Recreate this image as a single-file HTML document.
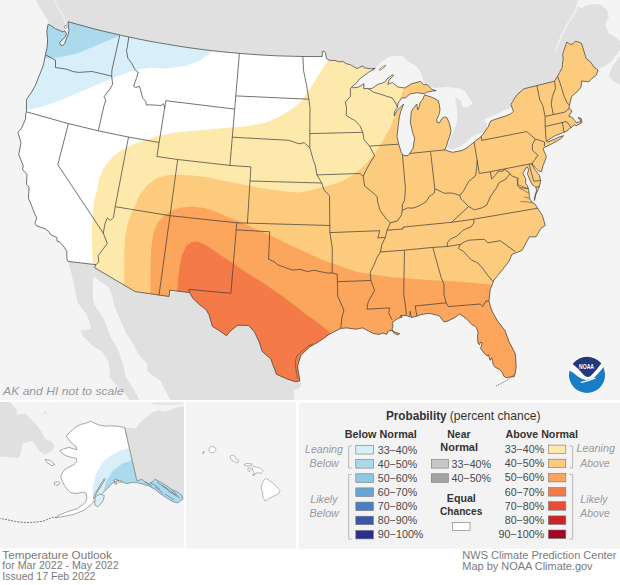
<!DOCTYPE html>
<html><head><meta charset="utf-8"><style>
html,body{margin:0;padding:0;background:#fff;}
#root{position:relative;width:620px;height:585px;overflow:hidden;background:#fff;}
</style></head><body><div id="root">
<svg width="620" height="585" viewBox="0 0 620 585" style="position:absolute;left:0;top:0">
<defs><clipPath id="us"><path d="M48.5,24.1 L55.6,28.7 L62.8,31.8 L64.9,30.8 L66.4,33.8 L65.4,36.9 L60.8,41.0 L59.7,42.6 L60.8,45.1 L62.8,45.6 L64.9,43.1 L65.9,40.0 L68.0,34.9 L69.0,30.8 L68.5,26.7 L68.1,21.7 L76.9,24.2 L85.8,26.6 L94.7,29.0 L103.6,31.2 L112.6,33.3 L121.5,35.4 L130.5,37.3 L139.5,39.2 L148.5,41.0 L157.6,42.6 L166.7,44.2 L175.7,45.7 L184.8,47.1 L193.9,48.4 L203.0,49.6 L212.2,50.7 L221.3,51.7 L230.5,52.6 L239.6,53.4 L248.8,54.1 L258.0,54.8 L267.2,55.3 L276.3,55.8 L285.5,56.1 L294.7,56.3 L303.9,56.5 L313.1,56.6 L322.3,56.5 L322.3,51.3 L324.1,51.2 L325.3,52.3 L326.5,58.6 L329.4,60.3 L335.0,60.5 L338.8,61.8 L343.0,61.4 L345.9,63.6 L350.7,64.8 L354.0,66.8 L357.0,68.6 L359.7,67.2 L363.0,65.9 L364.5,67.9 L370.2,68.7 L375.2,68.4 L368.6,72.3 L359.4,79.1 L356.2,83.4 L352.0,86.7 L353.0,87.8 L357.9,87.3 L361.6,85.3 L364.0,83.7 L363.7,88.7 L368.1,88.4 L368.4,88.8 L372.4,88.2 L378.0,84.3 L381.8,83.3 L385.5,81.6 L387.2,78.7 L392.6,74.7 L393.7,75.3 L389.2,79.9 L387.7,84.3 L392.3,82.5 L397.6,86.9 L405.0,88.0 L411.1,83.9 L420.7,81.4 L423.7,84.9 L427.0,84.5 L432.1,89.5 L436.2,90.6 L432.3,91.1 L426.5,92.3 L424.4,93.7 L416.7,92.7 L409.5,94.2 L405.5,97.8 L401.9,97.8 L398.1,103.1 L397.5,107.3 L394.4,111.8 L394.2,115.8 L396.8,110.9 L403.6,104.0 L400.8,111.3 L399.3,117.1 L398.1,126.4 L397.0,136.5 L398.7,144.2 L401.3,152.6 L403.8,155.6 L408.0,155.7 L409.7,153.5 L413.0,148.4 L414.6,138.3 L412.6,132.4 L410.4,122.4 L411.3,111.7 L413.0,108.7 L416.8,104.0 L417.7,110.0 L419.3,106.6 L420.1,102.2 L422.5,99.8 L424.6,94.9 L428.0,96.0 L433.2,97.8 L438.0,100.5 L439.4,104.6 L440.0,110.1 L438.7,115.6 L436.6,119.7 L437.3,122.4 L439.4,123.1 L441.4,119.0 L444.2,116.9 L446.9,117.6 L449.6,123.8 L451.0,130.6 L449.8,136.1 L447.6,142.0 L446.6,145.8 L444.6,149.9 L447.0,150.6 L452.4,152.3 L462.0,150.5 L467.4,147.5 L474.1,142.0 L481.2,136.6 L488.4,126.6 L489.3,123.8 L490.7,121.0 L496.1,119.0 L505.0,116.3 L510.8,113.9 L513.4,111.3 L510.9,104.6 L514.7,98.1 L517.2,94.6 L523.8,88.8 L536.9,85.6 L554.6,81.1 L557.6,76.1 L559.5,72.7 L562.2,67.6 L562.4,64.6 L563.2,58.5 L562.5,54.4 L564.2,49.6 L566.8,42.1 L570.8,44.7 L573.3,43.3 L575.4,41.2 L579.9,42.6 L581.5,43.4 L586.2,58.5 L590.7,62.1 L594.1,67.3 L598.1,70.1 L596.3,75.1 L590.5,79.8 L589.0,81.8 L581.4,81.1 L581.1,87.0 L578.0,90.9 L571.7,96.3 L569.4,105.3 L569.0,108.5 L572.0,110.9 L568.7,116.2 L572.2,117.4 L574.6,120.4 L576.3,122.6 L580.9,121.6 L579.2,117.7 L578.0,117.9 L581.1,118.6 L582.2,122.4 L576.1,125.9 L574.5,124.8 L571.3,127.3 L568.9,128.9 L567.3,130.9 L563.8,132.3 L559.2,134.1 L555.2,135.7 L551.1,138.1 L546.7,141.2 L547.5,142.2 L551.1,140.6 L556.0,138.5 L559.2,136.9 L563.6,135.7 L561.6,138.1 L557.6,140.6 L552.7,143.4 L547.9,145.8 L543.9,147.6 L543.1,149.0 L546.3,156.1 L545.5,159.6 L543.1,165.6 L541.3,171.6 L539.0,171.0 L537.1,169.5 L534.7,167.0 L532.3,164.4 L533.5,167.5 L535.5,170.5 L538.0,173.5 L539.5,175.5 L540.7,181.1 L539.5,185.9 L538.3,189.5 L535.9,194.3 L534.4,200.5 L535.0,196.0 L536.5,190.7 L535.9,187.1 L532.3,184.7 L529.9,180.0 L527.5,174.0 L528.7,169.2 L526.9,166.8 L524.0,171.6 L522.8,173.4 L525.7,178.7 L525.7,183.5 L527.5,185.9 L528.5,189.5 L529.3,194.3 L529.3,197.9 L532.3,202.7 L534.7,203.9 L537.7,208.2 L542.3,215.2 L545.3,225.4 L540.8,228.5 L536.1,236.8 L529.4,236.7 L522.0,250.4 L511.9,254.4 L509.3,260.7 L502.5,269.7 L497.6,275.6 L493.6,280.5 L493.2,282.0 L490.2,289.6 L489.0,301.2 L490.5,306.7 L492.5,312.1 L497.7,321.2 L505.0,330.5 L509.2,342.0 L515.3,353.8 L516.2,366.7 L515.1,373.5 L514.3,376.5 L505.6,377.6 L503.9,376.3 L502.0,372.1 L499.2,369.2 L495.4,367.4 L493.1,364.5 L492.6,360.8 L491.6,357.9 L490.2,360.3 L489.3,357.9 L488.4,354.6 L487.4,356.1 L484.1,353.2 L480.4,348.1 L481.3,346.6 L482.2,342.9 L480.4,342.4 L479.4,344.8 L478.0,342.9 L477.5,337.2 L478.0,332.5 L476.6,327.8 L473.8,325.3 L472.9,325.6 L466.4,318.7 L459.7,313.9 L455.2,317.3 L448.3,320.9 L444.0,321.9 L439.1,315.6 L429.1,313.3 L420.7,314.6 L417.0,316.1 L411.3,317.6 L410.1,311.3 L410.0,317.0 L406.3,315.5 L400.2,315.7 L402.3,316.9 L397.1,318.9 L394.5,320.8 L392.0,322.7 L393.2,326.0 L392.0,329.2 L393.2,332.4 L397.1,335.0 L399.7,333.7 L394.5,331.8 L392.0,330.5 L388.1,331.1 L386.8,334.4 L382.9,333.1 L379.0,334.4 L373.9,333.7 L368.7,331.1 L364.0,328.5 L362.3,327.9 L355.8,329.2 L346.8,327.9 L340.7,328.4 L329.2,334.3 L322.5,339.2 L314.5,344.2 L309.5,347.0 L300.8,355.3 L297.5,366.4 L298.7,373.4 L299.8,380.9 L295.4,381.7 L286.5,378.8 L276.5,374.3 L270.7,358.8 L262.2,351.4 L259.0,341.5 L254.5,332.1 L248.8,325.5 L237.8,325.2 L230.0,331.3 L226.6,335.7 L219.0,330.5 L212.4,326.4 L209.3,315.5 L206.2,309.6 L199.5,304.7 L192.9,298.3 L189.6,292.6 L169.8,290.2 L169.0,296.5 L135.1,291.6 L94.4,267.6 L96.0,264.7 L67.9,261.4 L66.9,258.8 L66.8,251.5 L64.2,247.2 L59.5,241.8 L57.2,241.3 L56.9,237.5 L50.5,234.5 L48.9,231.6 L44.9,228.7 L36.5,225.8 L35.0,223.5 L36.7,217.8 L34.6,213.6 L32.0,206.7 L28.4,198.0 L28.8,192.2 L29.1,187.1 L26.5,184.2 L27.0,174.3 L22.6,169.8 L23.2,165.5 L18.7,154.6 L21.0,142.7 L17.9,132.3 L21.6,128.1 L25.6,118.9 L25.5,115.2 L26.4,111.8 L26.5,99.4 L31.3,92.6 L35.5,85.0 L38.8,76.8 L43.3,65.3 L45.4,55.0 L46.8,48.8 L47.3,45.3 L47.6,39.6 L46.8,31.3 L48.0,24.7Z"/></clipPath>
<clipPath id="akc"><rect x="0" y="402" width="184" height="146.5"/></clipPath>
<clipPath id="akm"><path d="M66.2,435.8 L70.0,432.0 L75.4,427.4 L80.8,424.3 L85.4,423.5 L90.8,421.2 L94.6,423.1 L99.2,425.1 L105.4,426.2 L111.5,425.8 L117.7,426.2 L124.6,427.4 L136.9,480.9 L142.0,479.2 L143.7,480.9 L149.4,484.3 L152.7,481.5 L155.0,479.2 L158.4,480.9 L165.2,484.8 L171.9,489.4 L178.7,492.7 L181.5,495.0 L182.7,498.4 L182.7,499.5 L177.6,502.9 L173.1,501.8 L167.4,498.4 L160.6,493.9 L155.0,489.4 L149.9,486.5 L143.7,484.3 L136.9,482.6 L131.3,482.6 L126.8,483.7 L122.3,482.0 L120.0,481.5 L116.2,479.7 L111.5,484.3 L106.9,488.9 L102.3,493.5 L97.7,498.2 L94.6,501.0 L90.9,504.8 L83.2,510.6 L73.5,514.5 L63.8,516.4 L57.0,517.4 L58.0,515.5 L67.7,511.6 L77.4,508.7 L84.0,503.5 L85.4,502.0 L86.9,498.2 L86.2,493.5 L83.1,492.0 L76.9,493.5 L70.8,492.8 L67.7,489.7 L64.6,485.8 L62.3,481.2 L60.8,476.6 L62.3,472.8 L65.4,468.9 L70.0,466.6 L74.6,464.3 L76.9,461.2 L76.2,458.2 L71.5,457.4 L66.2,455.8 L62.3,453.5 L60.0,450.5 L63.8,448.9 L69.2,447.4 L73.1,448.9 L76.9,449.7 L76.2,446.6 L73.1,444.3 L68.5,439.7Z"/></clipPath></defs>
<rect width="620" height="585" fill="#fff"/>
<rect width="620" height="400" fill="#f4f4f4"/>
<path d="M36.0,0.0 L578.5,0.0 L577.0,6.0 L580.9,8.2 L588.1,5.1 L596.3,4.1 L600.0,4.6 L607.0,9.4 L608.9,17.0 L605.0,24.4 L608.9,33.8 L616.4,37.6 L620.0,41.4 L620.0,50.0 L618.3,52.6 L610.8,62.0 L601.4,67.7 L595.7,69.5 L590.0,65.0 L575.0,55.0 L568.0,60.0 L565.0,70.0 L560.0,80.0 L550.0,86.0 L535.0,92.0 L518.0,99.0 L510.0,108.0 L505.0,110.0 L496.1,114.2 L489.3,116.9 L483.8,119.7 L486.0,122.5 L487.5,126.5 L487.2,128.5 L483.8,131.5 L478.4,134.0 L471.5,137.0 L466.0,142.0 L460.6,146.5 L452.4,149.5 L447.6,148.4 L448.3,144.3 L451.0,137.5 L453.7,130.6 L456.5,123.8 L457.8,115.6 L456.5,107.4 L455.1,96.4 L458.0,99.0 L460.6,100.5 L462.6,106.7 L466.0,107.4 L472.9,104.0 L470.1,99.2 L464.7,91.0 L459.2,88.2 L445.5,86.8 L436.0,88.2 L426.8,85.5 L423.5,81.8 L422.4,76.1 L419.0,69.3 L414.5,64.8 L407.7,61.4 L403.2,56.3 L393.0,55.8 L388.5,57.0 L380.6,62.6 L375.0,68.2 L375.0,71.0 L355.0,71.0 L330.0,63.0 L302.0,61.0 L239.0,58.0 L128.0,41.0 L70.0,27.0 L63.0,31.0 L56.0,28.0 L49.5,23.6 L45.0,15.4 L40.0,8.0Z" fill="#e0e0e0"/>
<path d="M620.0,56.4 L612.6,65.8 L608.9,75.2 L612.6,80.8 L620.0,84.6Z" fill="#e0e0e0"/>
<path d="M555.3,51.3 L558.3,44.1 L561.4,35.9 L564.5,29.7 L567.6,23.6 L571.7,17.4 L575.8,10.3 L578.8,0.0" fill="none" stroke="#efefef" stroke-width="1.8"/>
<path d="M68.2,263.2 L70.9,271.4 L73.7,282.4 L75.7,293.3 L77.8,302.9 L83.3,309.7 L87.4,316.6 L90.1,323.4 L91.0,328.7 L80.3,330.6 L83.2,336.4 L92.9,346.1 L102.6,351.9 L108.4,361.6 L110.3,373.2 L109.4,377.1 L116.1,384.8 L123.9,392.6 L129.7,400.0 L139.4,400.0 L133.5,388.7 L125.8,377.1 L122.9,363.5 L118.1,350.0 L110.3,336.4 L106.5,326.1 L103.8,319.3 L99.7,312.5 L94.2,304.2 L92.8,296.0 L92.8,285.1 L93.5,277.6 L94.2,276.2 L95.6,277.6 L101.0,282.4 L105.1,284.4 L109.2,287.8 L112.0,296.0 L114.7,307.0 L117.5,313.8 L120.0,319.3 L125.8,332.6 L133.5,344.2 L139.4,355.8 L147.1,363.5 L147.1,371.3 L160.6,381.0 L166.4,392.6 L170.3,400.0 L294.2,400.0 L294.2,390.0 L297.4,389.0 L300.2,387.4 L301.3,383.0 L299.8,380.6 L296.0,376.0 L280.0,368.0 L230.0,291.0 L188.0,289.0 L170.0,293.0 L160.0,293.0 L100.0,264.0 L70.0,261.5Z" fill="#e0e0e0"/>
<path d="M54.5,0 L57.5,7 L61,12 L63.8,17 L65.5,22 L66.5,26" fill="none" stroke="#e9e9e9" stroke-width="2.2"/>
<path d="M64.9,30.8 L66.4,33.8 L65.4,36.9 L60.8,41 L59.7,42.6 L60.8,45.1 L62.8,45.6 L64.9,43.1 L65.9,40 L68,34.9 L69,30.8 L68.5,26.7 L66,27.5 L64,29.5Z" fill="#f4f4f4"/>
<path d="M378.8,69.6 L381.5,67.6 L385.6,65 L384.6,67.2 L380.2,70.4Z" fill="#fee9ad" stroke="#444" stroke-width="0.5"/>
<path d="M48.5,24.1 L55.6,28.7 L62.8,31.8 L64.9,30.8 L66.4,33.8 L65.4,36.9 L60.8,41.0 L59.7,42.6 L60.8,45.1 L62.8,45.6 L64.9,43.1 L65.9,40.0 L68.0,34.9 L69.0,30.8 L68.5,26.7 L68.1,21.7 L76.9,24.2 L85.8,26.6 L94.7,29.0 L103.6,31.2 L112.6,33.3 L121.5,35.4 L130.5,37.3 L139.5,39.2 L148.5,41.0 L157.6,42.6 L166.7,44.2 L175.7,45.7 L184.8,47.1 L193.9,48.4 L203.0,49.6 L212.2,50.7 L221.3,51.7 L230.5,52.6 L239.6,53.4 L248.8,54.1 L258.0,54.8 L267.2,55.3 L276.3,55.8 L285.5,56.1 L294.7,56.3 L303.9,56.5 L313.1,56.6 L322.3,56.5 L322.3,51.3 L324.1,51.2 L325.3,52.3 L326.5,58.6 L329.4,60.3 L335.0,60.5 L338.8,61.8 L343.0,61.4 L345.9,63.6 L350.7,64.8 L354.0,66.8 L357.0,68.6 L359.7,67.2 L363.0,65.9 L364.5,67.9 L370.2,68.7 L375.2,68.4 L368.6,72.3 L359.4,79.1 L356.2,83.4 L352.0,86.7 L353.0,87.8 L357.9,87.3 L361.6,85.3 L364.0,83.7 L363.7,88.7 L368.1,88.4 L368.4,88.8 L372.4,88.2 L378.0,84.3 L381.8,83.3 L385.5,81.6 L387.2,78.7 L392.6,74.7 L393.7,75.3 L389.2,79.9 L387.7,84.3 L392.3,82.5 L397.6,86.9 L405.0,88.0 L411.1,83.9 L420.7,81.4 L423.7,84.9 L427.0,84.5 L432.1,89.5 L436.2,90.6 L432.3,91.1 L426.5,92.3 L424.4,93.7 L416.7,92.7 L409.5,94.2 L405.5,97.8 L401.9,97.8 L398.1,103.1 L397.5,107.3 L394.4,111.8 L394.2,115.8 L396.8,110.9 L403.6,104.0 L400.8,111.3 L399.3,117.1 L398.1,126.4 L397.0,136.5 L398.7,144.2 L401.3,152.6 L403.8,155.6 L408.0,155.7 L409.7,153.5 L413.0,148.4 L414.6,138.3 L412.6,132.4 L410.4,122.4 L411.3,111.7 L413.0,108.7 L416.8,104.0 L417.7,110.0 L419.3,106.6 L420.1,102.2 L422.5,99.8 L424.6,94.9 L428.0,96.0 L433.2,97.8 L438.0,100.5 L439.4,104.6 L440.0,110.1 L438.7,115.6 L436.6,119.7 L437.3,122.4 L439.4,123.1 L441.4,119.0 L444.2,116.9 L446.9,117.6 L449.6,123.8 L451.0,130.6 L449.8,136.1 L447.6,142.0 L446.6,145.8 L444.6,149.9 L447.0,150.6 L452.4,152.3 L462.0,150.5 L467.4,147.5 L474.1,142.0 L481.2,136.6 L488.4,126.6 L489.3,123.8 L490.7,121.0 L496.1,119.0 L505.0,116.3 L510.8,113.9 L513.4,111.3 L510.9,104.6 L514.7,98.1 L517.2,94.6 L523.8,88.8 L536.9,85.6 L554.6,81.1 L557.6,76.1 L559.5,72.7 L562.2,67.6 L562.4,64.6 L563.2,58.5 L562.5,54.4 L564.2,49.6 L566.8,42.1 L570.8,44.7 L573.3,43.3 L575.4,41.2 L579.9,42.6 L581.5,43.4 L586.2,58.5 L590.7,62.1 L594.1,67.3 L598.1,70.1 L596.3,75.1 L590.5,79.8 L589.0,81.8 L581.4,81.1 L581.1,87.0 L578.0,90.9 L571.7,96.3 L569.4,105.3 L569.0,108.5 L572.0,110.9 L568.7,116.2 L572.2,117.4 L574.6,120.4 L576.3,122.6 L580.9,121.6 L579.2,117.7 L578.0,117.9 L581.1,118.6 L582.2,122.4 L576.1,125.9 L574.5,124.8 L571.3,127.3 L568.9,128.9 L567.3,130.9 L563.8,132.3 L559.2,134.1 L555.2,135.7 L551.1,138.1 L546.7,141.2 L547.5,142.2 L551.1,140.6 L556.0,138.5 L559.2,136.9 L563.6,135.7 L561.6,138.1 L557.6,140.6 L552.7,143.4 L547.9,145.8 L543.9,147.6 L543.1,149.0 L546.3,156.1 L545.5,159.6 L543.1,165.6 L541.3,171.6 L539.0,171.0 L537.1,169.5 L534.7,167.0 L532.3,164.4 L533.5,167.5 L535.5,170.5 L538.0,173.5 L539.5,175.5 L540.7,181.1 L539.5,185.9 L538.3,189.5 L535.9,194.3 L534.4,200.5 L535.0,196.0 L536.5,190.7 L535.9,187.1 L532.3,184.7 L529.9,180.0 L527.5,174.0 L528.7,169.2 L526.9,166.8 L524.0,171.6 L522.8,173.4 L525.7,178.7 L525.7,183.5 L527.5,185.9 L528.5,189.5 L529.3,194.3 L529.3,197.9 L532.3,202.7 L534.7,203.9 L537.7,208.2 L542.3,215.2 L545.3,225.4 L540.8,228.5 L536.1,236.8 L529.4,236.7 L522.0,250.4 L511.9,254.4 L509.3,260.7 L502.5,269.7 L497.6,275.6 L493.6,280.5 L493.2,282.0 L490.2,289.6 L489.0,301.2 L490.5,306.7 L492.5,312.1 L497.7,321.2 L505.0,330.5 L509.2,342.0 L515.3,353.8 L516.2,366.7 L515.1,373.5 L514.3,376.5 L505.6,377.6 L503.9,376.3 L502.0,372.1 L499.2,369.2 L495.4,367.4 L493.1,364.5 L492.6,360.8 L491.6,357.9 L490.2,360.3 L489.3,357.9 L488.4,354.6 L487.4,356.1 L484.1,353.2 L480.4,348.1 L481.3,346.6 L482.2,342.9 L480.4,342.4 L479.4,344.8 L478.0,342.9 L477.5,337.2 L478.0,332.5 L476.6,327.8 L473.8,325.3 L472.9,325.6 L466.4,318.7 L459.7,313.9 L455.2,317.3 L448.3,320.9 L444.0,321.9 L439.1,315.6 L429.1,313.3 L420.7,314.6 L417.0,316.1 L411.3,317.6 L410.1,311.3 L410.0,317.0 L406.3,315.5 L400.2,315.7 L402.3,316.9 L397.1,318.9 L394.5,320.8 L392.0,322.7 L393.2,326.0 L392.0,329.2 L393.2,332.4 L397.1,335.0 L399.7,333.7 L394.5,331.8 L392.0,330.5 L388.1,331.1 L386.8,334.4 L382.9,333.1 L379.0,334.4 L373.9,333.7 L368.7,331.1 L364.0,328.5 L362.3,327.9 L355.8,329.2 L346.8,327.9 L340.7,328.4 L329.2,334.3 L322.5,339.2 L314.5,344.2 L309.5,347.0 L300.8,355.3 L297.5,366.4 L298.7,373.4 L299.8,380.9 L295.4,381.7 L286.5,378.8 L276.5,374.3 L270.7,358.8 L262.2,351.4 L259.0,341.5 L254.5,332.1 L248.8,325.5 L237.8,325.2 L230.0,331.3 L226.6,335.7 L219.0,330.5 L212.4,326.4 L209.3,315.5 L206.2,309.6 L199.5,304.7 L192.9,298.3 L189.6,292.6 L169.8,290.2 L169.0,296.5 L135.1,291.6 L94.4,267.6 L96.0,264.7 L67.9,261.4 L66.9,258.8 L66.8,251.5 L64.2,247.2 L59.5,241.8 L57.2,241.3 L56.9,237.5 L50.5,234.5 L48.9,231.6 L44.9,228.7 L36.5,225.8 L35.0,223.5 L36.7,217.8 L34.6,213.6 L32.0,206.7 L28.4,198.0 L28.8,192.2 L29.1,187.1 L26.5,184.2 L27.0,174.3 L22.6,169.8 L23.2,165.5 L18.7,154.6 L21.0,142.7 L17.9,132.3 L21.6,128.1 L25.6,118.9 L25.5,115.2 L26.4,111.8 L26.5,99.4 L31.3,92.6 L35.5,85.0 L38.8,76.8 L43.3,65.3 L45.4,55.0 L46.8,48.8 L47.3,45.3 L47.6,39.6 L46.8,31.3 L48.0,24.7Z" fill="#fff"/>
<g clip-path="url(#us)">
<path d="M220.0,20.0 L213.5,50.5 L200.6,60.2 L185.2,66.1 L164.5,68.7 L153.5,67.7 L140.6,69.0 L127.8,72.2 L110.3,79.0 L84.5,90.0 L58.7,101.0 L39.4,107.5 L26.5,110.0 L10.0,115.0 L10.0,10.0 L220.0,10.0Z" fill="#d8eef8"/>
<path d="M125.0,20.0 L118.4,36.5 L100.6,43.5 L78.0,53.2 L58.7,57.4 L47.4,58.0 L30.0,59.0 L30.0,10.0 L125.0,10.0Z" fill="#acd9ec"/>
<path d="M92.0,310.0 L92.7,261.9 L91.9,246.5 L91.9,231.2 L92.7,215.8 L94.2,200.4 L97.1,190.0 L99.5,178.1 L104.4,166.8 L112.4,157.1 L122.1,149.8 L133.4,144.2 L144.7,140.2 L157.6,136.1 L170.5,133.2 L185.0,131.6 L202.6,130.0 L233.5,127.2 L247.7,125.9 L265.5,122.7 L277.9,117.4 L290.3,110.3 L301.0,101.5 L309.8,89.0 L318.7,74.8 L327.6,60.6 L333.0,50.0 L340.0,30.0 L620.0,30.0 L620.0,400.0 L92.0,400.0Z" fill="#fee9ad"/>
<path d="M124.2,310.0 L124.2,275.0 L124.2,254.2 L125.0,238.8 L127.3,225.0 L130.4,215.8 L134.2,208.0 L139.2,195.6 L147.3,185.2 L156.9,177.9 L168.2,175.0 L179.5,174.7 L192.4,175.5 L205.3,177.1 L215.0,178.7 L230.0,181.9 L257.4,187.4 L284.8,191.5 L298.0,192.6 L310.0,190.6 L320.0,187.7 L330.0,185.1 L340.0,182.3 L353.4,175.1 L367.1,162.7 L375.0,153.0 L382.9,140.6 L390.3,127.0 L395.8,112.3 L399.5,101.0 L403.5,89.0 L400.0,74.0 L395.0,60.0 L400.0,40.0 L620.0,40.0 L620.0,400.0 L124.2,400.0Z" fill="#fdcb7e"/>
<path d="M150.5,310.0 L150.5,265.0 L151.3,248.2 L153.7,232.1 L157.7,222.4 L164.2,215.2 L172.3,210.3 L181.9,207.6 L193.2,206.6 L204.5,207.9 L214.2,211.1 L223.9,215.2 L233.5,219.2 L240.0,221.6 L252.3,227.4 L270.3,235.2 L290.0,245.2 L323.9,260.4 L357.7,272.3 L391.6,277.3 L425.5,279.7 L459.4,281.7 L486.5,284.1 L500.0,285.8 L520.0,290.0 L540.0,290.0 L540.0,400.0 L150.5,400.0Z" fill="#fca55d"/>
<path d="M177.0,310.0 L177.3,291.0 L178.0,280.8 L179.4,267.7 L181.6,256.1 L186.0,246.0 L191.8,241.9 L197.6,241.6 L204.8,244.5 L213.5,250.3 L222.2,256.1 L232.4,262.7 L242.6,269.9 L251.3,275.7 L263.7,283.3 L277.4,292.8 L291.0,302.4 L304.7,313.4 L318.4,322.9 L328.0,331.1 L335.0,337.0 L340.0,345.0 L340.0,400.0 L177.0,400.0Z" fill="#f47a48"/>
</g>
<path d="M45.9,55.1 L51.2,57.8 L55.5,60.2 L55.5,67.5 L67.2,69.3 L72.7,71.5 L78.6,72.4 L88.8,71.7 L92.1,71.5 L111.7,76.1 M111.7,76.1 L111.9,70.1 L119.8,35.0 M111.7,76.1 L112.6,84.2 L109.3,89.9 L104.0,96.7 L105.9,100.0 L103.9,106.0 L98.3,130.8 M26.4,111.8 L68.4,123.6 L98.3,130.8 L128.6,137.1 L159.1,142.5 M68.4,123.6 L57.8,164.7 L103.3,233.2 M103.3,233.2 L107.3,243.5 L102.7,249.6 L98.1,255.8 L98.8,261.9 L96.0,264.7 M103.3,233.2 L105.0,223.5 L107.3,218.0 L110.4,220.4 L113.5,217.3 L115.2,206.7 M115.2,206.7 L128.5,137.1 M159.1,142.5 L156.9,156.5 L177.7,159.5 L229.9,165.4 L250.9,166.9 L250.0,181.0 L247.4,223.5 M159.1,142.5 L164.7,107.9 L165.8,100.7 L234.7,109.1 M164.7,107.9 L164.4,106.2 L163.1,103.6 L161.2,105.5 L157.3,105.3 L152.2,104.9 L146.4,104.9 L145.8,101.7 L142.6,97.8 L140.6,90.1 L139.4,86.3 L135.5,87.6 L133.6,86.3 L134.9,82.4 L136.8,77.3 L138.1,72.2 L134.9,69.6 L131.7,63.2 L127.8,58.1 L126.5,50.4 L127.2,47.8 L128.8,37.0 M239.4,53.4 L234.7,109.1 L229.9,165.4 M235.8,95.9 L308.9,99.2 M302.9,56.5 L303.5,70.4 L306.4,84.4 L308.7,98.4 L308.9,99.2 L310.0,108.2 L309.9,119.5 L309.8,133.6 L309.8,147.7 M232.3,137.2 L288.9,140.3 L299.0,143.8 L304.2,142.7 L309.8,147.7 L313.4,160.4 L315.2,165.2 L316.9,174.9 L321.8,183.0 M250.0,181.0 L321.8,183.0 M321.8,183.0 L324.1,190.1 L329.5,195.7 L329.8,225.5 L329.9,232.6 L332.3,248.1 L332.1,273.0 M170.0,215.7 L236.8,222.8 L329.8,225.5 M236.8,222.8 L236.2,229.8 L269.7,231.8 L268.6,259.2 L274.2,261.7 L277.6,264.7 L285.6,267.7 L292.5,270.0 L300.6,269.4 L307.5,271.6 L314.5,270.2 L320.2,271.6 L327.2,273.0 L332.1,273.0 L337.2,274.2 L337.4,281.7 L337.7,296.1 L343.9,310.1 L342.0,317.1 L340.7,328.4 M236.2,229.8 L230.9,293.3 L188.9,289.4 L189.6,292.6 M170.0,215.7 L159.0,295.2 M177.7,159.5 L170.0,215.7 M115.2,206.7 L170.0,215.7 M337.4,281.7 L370.9,280.5 M363.2,176.2 L364.7,186.1 L371.4,191.4 L377.2,196.7 L377.4,201.0 L380.2,210.7 L386.3,218.9 L390.4,222.8 L387.1,230.2 L385.3,237.4 L381.8,244.7 L380.5,251.9 L376.9,257.8 L373.3,266.5 L370.2,272.3 L370.9,280.5 L374.6,290.5 L368.1,302.1 L366.9,309.2 L389.6,307.9 L388.7,313.1 L390.6,316.9 L392.0,319.5 M329.9,232.6 L379.8,230.7 L377.8,237.9 L385.3,237.4 M363.2,176.2 L359.9,173.5 L316.9,174.9 M363.2,176.2 L366.0,170.4 L370.8,161.6 L374.6,155.7 L369.5,146.1 L363.9,139.3 L362.8,132.3 L359.7,125.4 L354.4,120.0 L351.4,118.7 L346.2,115.4 L346.5,107.7 L345.3,102.1 L350.5,96.3 L350.3,88.9 L352.0,86.7 M362.8,132.3 L309.8,133.6 M369.5,146.1 L398.7,144.2 M397.5,107.3 L395.0,101.9 L392.1,97.9 L386.7,96.3 L381.6,94.5 L373.7,92.3 L368.4,88.8 M402.4,154.2 L405.4,188.2 L405.1,193.2 L404.6,200.4 L402.3,204.8 L402.2,210.5 M390.4,222.8 L397.5,220.9 L401.5,214.9 L402.2,210.5 L407.5,207.9 L413.0,208.1 L418.3,206.2 L426.1,201.8 L429.4,196.5 L434.4,193.0 L434.8,188.7 L444.3,193.2 L451.9,193.0 L460.0,195.4 L463.7,190.6 L465.4,187.5 L468.8,181.2 L475.6,175.9 L476.6,168.5 L477.2,160.7 M434.8,188.7 L430.6,152.1 M409.7,153.5 L430.5,151.3 L444.6,149.9 M477.2,160.7 L474.1,142.0 M477.2,160.7 L479.3,173.5 L490.3,171.7 L529.0,164.1 M490.3,171.7 L491.6,178.9 L496.0,174.5 L498.2,171.3 L503.0,171.1 L504.3,169.4 L508.7,172.1 L509.9,173.8 L512.8,176.4 L518.1,178.2 L517.4,185.6 L520.7,187.8 L528.4,188.4 M509.9,173.8 L505.7,179.2 L499.1,182.6 L496.3,188.2 L492.7,193.1 L489.7,198.0 L486.9,204.9 L481.8,207.9 L474.3,209.8 L468.6,206.5 L464.2,202.0 L460.4,198.2 L460.0,195.4 M468.6,206.5 L451.6,222.3 L403.1,227.1 L403.0,229.0 L387.1,230.2 M451.6,222.3 L473.7,219.2 L537.7,208.2 M473.7,219.2 L474.0,222.7 L471.2,226.7 L463.4,230.0 L461.0,232.4 L456.1,236.5 L450.5,238.9 L447.3,242.9 L447.3,246.5 M460.2,244.5 L447.3,246.5 L432.8,247.4 L403.3,250.3 L380.5,251.9 M460.2,244.5 L464.2,242.1 L468.2,240.3 L476.3,239.7 L484.4,239.3 L487.6,242.9 L500.2,240.7 L515.3,251.7 M460.2,244.5 L458.5,248.5 L463.4,251.4 L467.4,255.8 L471.5,260.0 L477.8,263.0 L483.5,269.3 L488.0,275.7 L493.2,281.6 M432.8,247.4 L441.0,277.1 L444.0,284.6 L444.0,294.5 L446.1,302.8 L448.3,306.6 L480.3,304.0 L482.7,306.5 L485.9,301.0 L489.1,301.1 M446.1,302.8 L415.1,306.0 L417.0,316.1 M403.3,250.3 L404.5,251.6 L403.7,294.2 L405.6,306.8 L406.3,315.5 M481.2,136.6 L481.8,140.4 L526.6,131.6 L535.4,139.0 L544.6,142.0 L544.3,146.4 M535.4,139.0 L532.3,144.8 L532.5,150.5 L537.9,155.1 L535.0,159.4 L532.9,162.1 L531.9,165.2 M532.0,163.5 L529.0,164.1 L533.8,181.3 L540.5,180.5 M539.6,186.3 L535.9,187.3 M536.9,85.6 L539.7,99.5 L542.7,105.3 L545.1,116.4 L545.2,126.5 L546.1,140.1 L547.1,141.3 M554.6,81.1 L555.5,88.3 L552.4,96.4 L551.2,104.0 L553.3,114.6 M545.1,116.4 L553.3,114.6 L564.9,112.1 L569.0,108.5 M557.6,76.1 L561.3,86.8 L564.0,96.2 L567.1,102.7 L569.4,105.3 M545.2,126.5 L562.3,122.5 L566.6,121.6 L569.5,125.5 L571.1,128.0 M562.3,122.5 L564.2,132.4" fill="none" stroke="#3c3c3c" stroke-width="0.72" stroke-linejoin="round"/>
<path d="M48.5,24.1 L55.6,28.7 L62.8,31.8 L64.9,30.8 L66.4,33.8 L65.4,36.9 L60.8,41.0 L59.7,42.6 L60.8,45.1 L62.8,45.6 L64.9,43.1 L65.9,40.0 L68.0,34.9 L69.0,30.8 L68.5,26.7 L68.1,21.7 L76.9,24.2 L85.8,26.6 L94.7,29.0 L103.6,31.2 L112.6,33.3 L121.5,35.4 L130.5,37.3 L139.5,39.2 L148.5,41.0 L157.6,42.6 L166.7,44.2 L175.7,45.7 L184.8,47.1 L193.9,48.4 L203.0,49.6 L212.2,50.7 L221.3,51.7 L230.5,52.6 L239.6,53.4 L248.8,54.1 L258.0,54.8 L267.2,55.3 L276.3,55.8 L285.5,56.1 L294.7,56.3 L303.9,56.5 L313.1,56.6 L322.3,56.5 L322.3,51.3 L324.1,51.2 L325.3,52.3 L326.5,58.6 L329.4,60.3 L335.0,60.5 L338.8,61.8 L343.0,61.4 L345.9,63.6 L350.7,64.8 L354.0,66.8 L357.0,68.6 L359.7,67.2 L363.0,65.9 L364.5,67.9 L370.2,68.7 L375.2,68.4 L368.6,72.3 L359.4,79.1 L356.2,83.4 L352.0,86.7 L353.0,87.8 L357.9,87.3 L361.6,85.3 L364.0,83.7 L363.7,88.7 L368.1,88.4 L368.4,88.8 L372.4,88.2 L378.0,84.3 L381.8,83.3 L385.5,81.6 L387.2,78.7 L392.6,74.7 L393.7,75.3 L389.2,79.9 L387.7,84.3 L392.3,82.5 L397.6,86.9 L405.0,88.0 L411.1,83.9 L420.7,81.4 L423.7,84.9 L427.0,84.5 L432.1,89.5 L436.2,90.6 L432.3,91.1 L426.5,92.3 L424.4,93.7 L416.7,92.7 L409.5,94.2 L405.5,97.8 L401.9,97.8 L398.1,103.1 L397.5,107.3 L394.4,111.8 L394.2,115.8 L396.8,110.9 L403.6,104.0 L400.8,111.3 L399.3,117.1 L398.1,126.4 L397.0,136.5 L398.7,144.2 L401.3,152.6 L403.8,155.6 L408.0,155.7 L409.7,153.5 L413.0,148.4 L414.6,138.3 L412.6,132.4 L410.4,122.4 L411.3,111.7 L413.0,108.7 L416.8,104.0 L417.7,110.0 L419.3,106.6 L420.1,102.2 L422.5,99.8 L424.6,94.9 L428.0,96.0 L433.2,97.8 L438.0,100.5 L439.4,104.6 L440.0,110.1 L438.7,115.6 L436.6,119.7 L437.3,122.4 L439.4,123.1 L441.4,119.0 L444.2,116.9 L446.9,117.6 L449.6,123.8 L451.0,130.6 L449.8,136.1 L447.6,142.0 L446.6,145.8 L444.6,149.9 L447.0,150.6 L452.4,152.3 L462.0,150.5 L467.4,147.5 L474.1,142.0 L481.2,136.6 L488.4,126.6 L489.3,123.8 L490.7,121.0 L496.1,119.0 L505.0,116.3 L510.8,113.9 L513.4,111.3 L510.9,104.6 L514.7,98.1 L517.2,94.6 L523.8,88.8 L536.9,85.6 L554.6,81.1 L557.6,76.1 L559.5,72.7 L562.2,67.6 L562.4,64.6 L563.2,58.5 L562.5,54.4 L564.2,49.6 L566.8,42.1 L570.8,44.7 L573.3,43.3 L575.4,41.2 L579.9,42.6 L581.5,43.4 L586.2,58.5 L590.7,62.1 L594.1,67.3 L598.1,70.1 L596.3,75.1 L590.5,79.8 L589.0,81.8 L581.4,81.1 L581.1,87.0 L578.0,90.9 L571.7,96.3 L569.4,105.3 L569.0,108.5 L572.0,110.9 L568.7,116.2 L572.2,117.4 L574.6,120.4 L576.3,122.6 L580.9,121.6 L579.2,117.7 L578.0,117.9 L581.1,118.6 L582.2,122.4 L576.1,125.9 L574.5,124.8 L571.3,127.3 L568.9,128.9 L567.3,130.9 L563.8,132.3 L559.2,134.1 L555.2,135.7 L551.1,138.1 L546.7,141.2 L547.5,142.2 L551.1,140.6 L556.0,138.5 L559.2,136.9 L563.6,135.7 L561.6,138.1 L557.6,140.6 L552.7,143.4 L547.9,145.8 L543.9,147.6 L543.1,149.0 L546.3,156.1 L545.5,159.6 L543.1,165.6 L541.3,171.6 L539.0,171.0 L537.1,169.5 L534.7,167.0 L532.3,164.4 L533.5,167.5 L535.5,170.5 L538.0,173.5 L539.5,175.5 L540.7,181.1 L539.5,185.9 L538.3,189.5 L535.9,194.3 L534.4,200.5 L535.0,196.0 L536.5,190.7 L535.9,187.1 L532.3,184.7 L529.9,180.0 L527.5,174.0 L528.7,169.2 L526.9,166.8 L524.0,171.6 L522.8,173.4 L525.7,178.7 L525.7,183.5 L527.5,185.9 L528.5,189.5 L529.3,194.3 L529.3,197.9 L532.3,202.7 L534.7,203.9 L537.7,208.2 L542.3,215.2 L545.3,225.4 L540.8,228.5 L536.1,236.8 L529.4,236.7 L522.0,250.4 L511.9,254.4 L509.3,260.7 L502.5,269.7 L497.6,275.6 L493.6,280.5 L493.2,282.0 L490.2,289.6 L489.0,301.2 L490.5,306.7 L492.5,312.1 L497.7,321.2 L505.0,330.5 L509.2,342.0 L515.3,353.8 L516.2,366.7 L515.1,373.5 L514.3,376.5 L505.6,377.6 L503.9,376.3 L502.0,372.1 L499.2,369.2 L495.4,367.4 L493.1,364.5 L492.6,360.8 L491.6,357.9 L490.2,360.3 L489.3,357.9 L488.4,354.6 L487.4,356.1 L484.1,353.2 L480.4,348.1 L481.3,346.6 L482.2,342.9 L480.4,342.4 L479.4,344.8 L478.0,342.9 L477.5,337.2 L478.0,332.5 L476.6,327.8 L473.8,325.3 L472.9,325.6 L466.4,318.7 L459.7,313.9 L455.2,317.3 L448.3,320.9 L444.0,321.9 L439.1,315.6 L429.1,313.3 L420.7,314.6 L417.0,316.1 L411.3,317.6 L410.1,311.3 L410.0,317.0 L406.3,315.5 L400.2,315.7 L402.3,316.9 L397.1,318.9 L394.5,320.8 L392.0,322.7 L393.2,326.0 L392.0,329.2 L393.2,332.4 L397.1,335.0 L399.7,333.7 L394.5,331.8 L392.0,330.5 L388.1,331.1 L386.8,334.4 L382.9,333.1 L379.0,334.4 L373.9,333.7 L368.7,331.1 L364.0,328.5 L362.3,327.9 L355.8,329.2 L346.8,327.9 L340.7,328.4 L329.2,334.3 L322.5,339.2 L314.5,344.2 L309.5,347.0 L300.8,355.3 L297.5,366.4 L298.7,373.4 L299.8,380.9 L295.4,381.7 L286.5,378.8 L276.5,374.3 L270.7,358.8 L262.2,351.4 L259.0,341.5 L254.5,332.1 L248.8,325.5 L237.8,325.2 L230.0,331.3 L226.6,335.7 L219.0,330.5 L212.4,326.4 L209.3,315.5 L206.2,309.6 L199.5,304.7 L192.9,298.3 L189.6,292.6 L169.8,290.2 L169.0,296.5 L135.1,291.6 L94.4,267.6 L96.0,264.7 L67.9,261.4 L66.9,258.8 L66.8,251.5 L64.2,247.2 L59.5,241.8 L57.2,241.3 L56.9,237.5 L50.5,234.5 L48.9,231.6 L44.9,228.7 L36.5,225.8 L35.0,223.5 L36.7,217.8 L34.6,213.6 L32.0,206.7 L28.4,198.0 L28.8,192.2 L29.1,187.1 L26.5,184.2 L27.0,174.3 L22.6,169.8 L23.2,165.5 L18.7,154.6 L21.0,142.7 L17.9,132.3 L21.6,128.1 L25.6,118.9 L25.5,115.2 L26.4,111.8 L26.5,99.4 L31.3,92.6 L35.5,85.0 L38.8,76.8 L43.3,65.3 L45.4,55.0 L46.8,48.8 L47.3,45.3 L47.6,39.6 L46.8,31.3 L48.0,24.7Z" fill="none" stroke="#3c3c3c" stroke-width="0.72" stroke-linejoin="round"/>
<path d="M64.3,26.2 L66.3,25.2 L67.2,26.8 L65.8,28.4 L64.6,27.8Z" fill="#fff" stroke="#444" stroke-width="0.5"/>
<path d="M297.6,379 L296,370 L295.2,361 L297,355.6 L302,351 L307.5,346.5 L313,343.5" fill="none" stroke="#3c3c3c" stroke-width="0.5"/>
<path d="M519.2,188.3 L523,190 L528.7,193.1 M524,196.7 L529.3,198.5 M520.4,201.5 L526,201.8 L532.3,202.7 M516.8,178.7 L518,184.7 L521,186 L524,187.1 L527.8,189" fill="none" stroke="#3c3c3c" stroke-width="0.5"/>
<path d="M513.5,374.5 L511,377 L508,379.5 L504,382 L500,384 L496,386" fill="none" stroke="#555" stroke-width="0.8" stroke-dasharray="1.5 1"/>
<text x="3.1" y="394.9" font-family="Liberation Sans" font-size="11.4" font-weight="normal" font-style="italic" fill="#999" text-anchor="start" textLength="120.6" lengthAdjust="spacingAndGlyphs">AK and HI not to scale</text>
<g>
<circle cx="587" cy="374.9" r="19.1" fill="#fff"/>
<circle cx="587" cy="374.9" r="18.1" fill="#1b7cc6"/>
<path d="M568.9,370.2 Q574,372.5 577.5,376.3 Q582,379.6 586.1,379.9 Q591,379.6 594.7,377 Q599.5,372.5 603.4,367.3 A18.1,18.1 0 0 0 568.9,370.2Z" fill="#fff"/>
<path d="M572.6,364 Q579,369 584,375.2 Q586.8,377.9 590.4,376.3 Q596,371 601.3,363.6 A18.1,18.1 0 0 0 572.6,364Z" fill="#213a7c"/>
<path d="M581.4,382.4 Q588,381.2 594.9,378.2" fill="none" stroke="#fff" stroke-width="1.3" stroke-linecap="round"/>
<text x="586.5" y="368.7" font-family="Liberation Sans" font-weight="bold" font-size="6.4" fill="#fff" text-anchor="middle" textLength="15.1" lengthAdjust="spacingAndGlyphs">NOAA</text>
</g>
<g clip-path="url(#akc)">
<rect x="0" y="402" width="184" height="146.5" fill="#f4f4f4"/>
<path d="M0.0,402.0 L10.3,402.0 L17.1,410.3 L16.2,414.5 L25.6,413.7 L34.2,422.2 L41.0,430.8 L45.3,439.3 L51.3,441.0 L54.7,446.2 L51.3,451.3 L45.3,454.7 L40.2,452.1 L32.5,441.0 L22.2,443.6 L21.4,451.3 L18.8,458.1 L0.0,456.4Z" fill="#e0e0e0"/>
<path d="M124.6,427.4 L135.8,428.4 L137.7,425.2 L143.5,419.4 L148.7,415.5 L152.6,412.3 L159.0,410.3 L164.2,411.6 L171.9,409.0 L177.1,407.1 L182.3,406.5 L185.0,406.0 L185.0,499.0 L182.7,498.4 L181.5,495.0 L178.7,492.7 L171.9,489.4 L165.2,484.8 L158.4,480.9 L155.0,479.2 L152.7,481.5 L149.4,484.3 L143.7,480.9 L142.0,479.2 L136.9,480.9Z" fill="#e0e0e0"/>
<path d="M150,402 L183,402 L183,404.5 L176,405.5 L168,404.8 L160,405.5 L153,404.5Z" fill="#e8e8e8"/>
<circle cx="45.3" cy="412.8" r="1.3" fill="#e0e0e0"/>
<path d="M66.2,435.8 L70.0,432.0 L75.4,427.4 L80.8,424.3 L85.4,423.5 L90.8,421.2 L94.6,423.1 L99.2,425.1 L105.4,426.2 L111.5,425.8 L117.7,426.2 L124.6,427.4 L136.9,480.9 L142.0,479.2 L143.7,480.9 L149.4,484.3 L152.7,481.5 L155.0,479.2 L158.4,480.9 L165.2,484.8 L171.9,489.4 L178.7,492.7 L181.5,495.0 L182.7,498.4 L182.7,499.5 L177.6,502.9 L173.1,501.8 L167.4,498.4 L160.6,493.9 L155.0,489.4 L149.9,486.5 L143.7,484.3 L136.9,482.6 L131.3,482.6 L126.8,483.7 L122.3,482.0 L120.0,481.5 L116.2,479.7 L111.5,484.3 L106.9,488.9 L102.3,493.5 L97.7,498.2 L94.6,501.0 L90.9,504.8 L83.2,510.6 L73.5,514.5 L63.8,516.4 L57.0,517.4 L58.0,515.5 L67.7,511.6 L77.4,508.7 L84.0,503.5 L85.4,502.0 L86.9,498.2 L86.2,493.5 L83.1,492.0 L76.9,493.5 L70.8,492.8 L67.7,489.7 L64.6,485.8 L62.3,481.2 L60.8,476.6 L62.3,472.8 L65.4,468.9 L70.0,466.6 L74.6,464.3 L76.9,461.2 L76.2,458.2 L71.5,457.4 L66.2,455.8 L62.3,453.5 L60.0,450.5 L63.8,448.9 L69.2,447.4 L73.1,448.9 L76.9,449.7 L76.2,446.6 L73.1,444.3 L68.5,439.7Z" fill="#fff"/>
<g clip-path="url(#akm)"><path d="M92.3,505.0 L93.1,485.8 L96.2,473.5 L102.3,462.8 L111.5,455.1 L122.3,449.7 L128.5,448.2 L190.0,440.0 L190.0,520.0 L92.0,520.0Z" fill="#d8eef8"/><path d="M103.0,492.0 L106.9,479.7 L113.1,470.5 L122.3,463.5 L131.5,460.5 L133.8,460.0 L190.0,455.0 L190.0,520.0 L103.0,520.0Z" fill="#acd9ec"/></g>
<path d="M66.2,435.8 L70.0,432.0 L75.4,427.4 L80.8,424.3 L85.4,423.5 L90.8,421.2 L94.6,423.1 L99.2,425.1 L105.4,426.2 L111.5,425.8 L117.7,426.2 L124.6,427.4 L136.9,480.9 L142.0,479.2 L143.7,480.9 L149.4,484.3 L152.7,481.5 L155.0,479.2 L158.4,480.9 L165.2,484.8 L171.9,489.4 L178.7,492.7 L181.5,495.0 L182.7,498.4 L182.7,499.5 L177.6,502.9 L173.1,501.8 L167.4,498.4 L160.6,493.9 L155.0,489.4 L149.9,486.5 L143.7,484.3 L136.9,482.6 L131.3,482.6 L126.8,483.7 L122.3,482.0 L120.0,481.5 L116.2,479.7 L111.5,484.3 L106.9,488.9 L102.3,493.5 L97.7,498.2 L94.6,501.0 L90.9,504.8 L83.2,510.6 L73.5,514.5 L63.8,516.4 L57.0,517.4 L58.0,515.5 L67.7,511.6 L77.4,508.7 L84.0,503.5 L85.4,502.0 L86.9,498.2 L86.2,493.5 L83.1,492.0 L76.9,493.5 L70.8,492.8 L67.7,489.7 L64.6,485.8 L62.3,481.2 L60.8,476.6 L62.3,472.8 L65.4,468.9 L70.0,466.6 L74.6,464.3 L76.9,461.2 L76.2,458.2 L71.5,457.4 L66.2,455.8 L62.3,453.5 L60.0,450.5 L63.8,448.9 L69.2,447.4 L73.1,448.9 L76.9,449.7 L76.2,446.6 L73.1,444.3 L68.5,439.7Z" fill="none" stroke="#555" stroke-width="0.5"/>
<path d="M124.6,427.4 L136.9,480.9" stroke="#999" stroke-width="0.5"/>
<path d="M145,482 L152,486 M150,482 L160,489 M157,482 L168,490 M162,485 L176,495 M168,491 L180,498 M172,490 L178,496 M155,487 L163,493 M165,494 L174,500" stroke="#556" stroke-width="0.5" fill="none"/>
<path d="M105,478.6 L101.5,484 L98.5,489 L95.5,494 L93.8,498.5" fill="none" stroke="#555" stroke-width="1.6"/>
<path d="M105,478.6 L101.5,484 L98.5,489 L95.5,494 L93.8,498.5" fill="none" stroke="#f4f4f4" stroke-width="0.8"/>
<path d="M113.5,480.5 L115.5,479.2 L117.5,480.3 L116,481.6Z M118,480.8 L120.5,480 L121.5,482 L119,482.3Z M114.5,482.5 L116.5,482.2 L117,484 L115,484.2Z" fill="#fff" stroke="#444" stroke-width="0.5"/>
<path d="M95.0,497.0 L100.0,494.0 L104.4,495.5 L103.0,501.0 L98.0,506.8 L94.8,505.0Z" fill="#d8eef8" stroke="#555" stroke-width="0.5"/>
<path d="M54.2,482.5 L58.0,481.6 L60.0,483.5 L57.0,485.5 L54.5,484.5Z" fill="#fff" stroke="#555" stroke-width="0.5"/>
<path d="M45.3,459.5 L50.0,460.5 L54.7,464.5 L52.0,465.8 L47.0,462.5Z" fill="#fff" stroke="#555" stroke-width="0.5"/>
<path d="M57.0,517.4 L52.2,517.4 L42.6,521.3 L34.8,522.2 L25.1,522.6 L17.4,521.8 L7.7,519.9 L0.0,518.4" fill="none" stroke="#555" stroke-width="0.8" stroke-dasharray="2 1.2"/>
</g>
<rect x="186" y="402" width="110" height="146.5" fill="#f4f4f4"/>
<g fill="#fff" stroke="#777" stroke-width="0.5"><path d="M202.5,453.5 L203.8,451.0 L204.3,451.5 L203.0,454.0Z"/><path d="M209.0,448.5 L211.0,446.6 L214.5,447.0 L216.0,449.5 L214.0,452.5 L210.5,452.8 L208.9,451.0Z"/><path d="M230.0,456.5 L232.0,455.0 L234.5,456.0 L236.0,459.0 L238.9,460.5 L237.5,462.8 L234.0,461.5 L231.0,459.5Z"/><path d="M244.0,464.5 L247.0,463.4 L252.2,464.0 L251.0,466.0 L245.0,465.8Z"/><path d="M247.8,468.5 L249.5,467.9 L250.7,469.5 L249.5,471.7 L248.0,470.5Z"/><path d="M252.2,468.0 L254.0,466.0 L257.0,467.5 L260.0,468.0 L263.3,470.5 L261.0,473.5 L257.5,472.5 L255.0,474.0 L253.0,471.0Z"/><path d="M252.5,474.5 L254.5,474.0 L254.3,475.4 L252.6,475.3Z"/><path d="M264.0,480.0 L265.5,478.3 L268.5,480.0 L272.0,482.5 L276.0,486.0 L280.0,490.5 L279.0,493.5 L274.0,496.0 L269.0,498.5 L265.0,501.2 L263.0,497.0 L262.5,492.0 L261.0,488.0 L262.0,484.0Z"/></g>
<rect x="299" y="402.7" width="321" height="146" fill="#f3f3f3"/>
<rect x="355.8" y="445.5" width="17.6" height="8.5" fill="#d9eff8" stroke="#777" stroke-width="0.6"/>
<text x="377.8" y="453.5" font-family="Liberation Sans" font-size="10.2" font-weight="normal" font-style="normal" fill="#474747" text-anchor="start" textLength="39.4" lengthAdjust="spacingAndGlyphs">33−40%</text>
<rect x="355.8" y="459.6" width="17.6" height="8.5" fill="#abd9ec" stroke="#777" stroke-width="0.6"/>
<text x="377.8" y="467.6" font-family="Liberation Sans" font-size="10.2" font-weight="normal" font-style="normal" fill="#474747" text-anchor="start" textLength="39.4" lengthAdjust="spacingAndGlyphs">40−50%</text>
<rect x="355.8" y="473.8" width="17.6" height="8.5" fill="#8ec8e3" stroke="#777" stroke-width="0.6"/>
<text x="377.8" y="481.8" font-family="Liberation Sans" font-size="10.2" font-weight="normal" font-style="normal" fill="#474747" text-anchor="start" textLength="39.4" lengthAdjust="spacingAndGlyphs">50−60%</text>
<rect x="355.8" y="487.9" width="17.6" height="8.5" fill="#68a5d4" stroke="#777" stroke-width="0.6"/>
<text x="377.8" y="495.9" font-family="Liberation Sans" font-size="10.2" font-weight="normal" font-style="normal" fill="#474747" text-anchor="start" textLength="39.4" lengthAdjust="spacingAndGlyphs">60−70%</text>
<rect x="355.8" y="502.1" width="17.6" height="8.5" fill="#4a80c2" stroke="#777" stroke-width="0.6"/>
<text x="377.8" y="510.1" font-family="Liberation Sans" font-size="10.2" font-weight="normal" font-style="normal" fill="#474747" text-anchor="start" textLength="39.4" lengthAdjust="spacingAndGlyphs">70−80%</text>
<rect x="355.8" y="516.2" width="17.6" height="8.5" fill="#3a57a7" stroke="#777" stroke-width="0.6"/>
<text x="377.8" y="524.2" font-family="Liberation Sans" font-size="10.2" font-weight="normal" font-style="normal" fill="#474747" text-anchor="start" textLength="39.4" lengthAdjust="spacingAndGlyphs">80−90%</text>
<rect x="355.8" y="530.4" width="17.6" height="8.5" fill="#2a2f8c" stroke="#777" stroke-width="0.6"/>
<text x="377.8" y="538.4" font-family="Liberation Sans" font-size="10.2" font-weight="normal" font-style="normal" fill="#474747" text-anchor="start" textLength="45.6" lengthAdjust="spacingAndGlyphs">90−100%</text>
<rect x="548.4" y="445.1" width="17.4" height="8.5" fill="#fee9ad" stroke="#777" stroke-width="0.6"/>
<text x="504.8" y="453.1" font-family="Liberation Sans" font-size="10.2" font-weight="normal" font-style="normal" fill="#474747" text-anchor="start" textLength="39.4" lengthAdjust="spacingAndGlyphs">33−40%</text>
<rect x="548.4" y="459.2" width="17.4" height="8.5" fill="#fdcb7e" stroke="#777" stroke-width="0.6"/>
<text x="504.8" y="467.2" font-family="Liberation Sans" font-size="10.2" font-weight="normal" font-style="normal" fill="#474747" text-anchor="start" textLength="39.4" lengthAdjust="spacingAndGlyphs">40−50%</text>
<rect x="548.4" y="473.4" width="17.4" height="8.5" fill="#fca55d" stroke="#777" stroke-width="0.6"/>
<text x="504.8" y="481.4" font-family="Liberation Sans" font-size="10.2" font-weight="normal" font-style="normal" fill="#474747" text-anchor="start" textLength="39.4" lengthAdjust="spacingAndGlyphs">50−60%</text>
<rect x="548.4" y="487.6" width="17.4" height="8.5" fill="#f47a48" stroke="#777" stroke-width="0.6"/>
<text x="504.8" y="495.6" font-family="Liberation Sans" font-size="10.2" font-weight="normal" font-style="normal" fill="#474747" text-anchor="start" textLength="39.4" lengthAdjust="spacingAndGlyphs">60−70%</text>
<rect x="548.4" y="501.7" width="17.4" height="8.5" fill="#e84c35" stroke="#777" stroke-width="0.6"/>
<text x="504.8" y="509.7" font-family="Liberation Sans" font-size="10.2" font-weight="normal" font-style="normal" fill="#474747" text-anchor="start" textLength="39.4" lengthAdjust="spacingAndGlyphs">70−80%</text>
<rect x="548.4" y="515.9" width="17.4" height="8.5" fill="#cc2327" stroke="#777" stroke-width="0.6"/>
<text x="504.8" y="523.9" font-family="Liberation Sans" font-size="10.2" font-weight="normal" font-style="normal" fill="#474747" text-anchor="start" textLength="39.4" lengthAdjust="spacingAndGlyphs">80−90%</text>
<rect x="548.4" y="530.0" width="17.4" height="8.5" fill="#a20526" stroke="#777" stroke-width="0.6"/>
<text x="498.6" y="538.0" font-family="Liberation Sans" font-size="10.2" font-weight="normal" font-style="normal" fill="#474747" text-anchor="start" textLength="45.6" lengthAdjust="spacingAndGlyphs">90−100%</text>
<rect x="431.3" y="459.6" width="17.1" height="8.5" fill="#c7c7c7" stroke="#777" stroke-width="0.6"/>
<text x="451.6" y="467.6" font-family="Liberation Sans" font-size="10.2" font-weight="normal" font-style="normal" fill="#474747" text-anchor="start" textLength="39.4" lengthAdjust="spacingAndGlyphs">33−40%</text>
<rect x="431.3" y="473.8" width="17.1" height="8.5" fill="#a4a4a4" stroke="#777" stroke-width="0.6"/>
<text x="451.6" y="481.8" font-family="Liberation Sans" font-size="10.2" font-weight="normal" font-style="normal" fill="#474747" text-anchor="start" textLength="39.4" lengthAdjust="spacingAndGlyphs">40−50%</text>
<rect x="452.3" y="522.4" width="17.7" height="8.1" fill="#fff" stroke="#777" stroke-width="0.6"/>
<text x="385.9" y="420.2" font-family="Liberation Sans" font-size="12" font-weight="bold" font-style="normal" fill="#333" text-anchor="start" textLength="60.7" lengthAdjust="spacingAndGlyphs">Probability</text>
<text x="449.7" y="420.2" font-family="Liberation Sans" font-size="12" font-weight="normal" font-style="normal" fill="#333" text-anchor="start" textLength="90.8" lengthAdjust="spacingAndGlyphs">(percent chance)</text>
<text x="344.7" y="437.8" font-family="Liberation Sans" font-size="10.4" font-weight="bold" font-style="normal" fill="#333" text-anchor="start" textLength="72.1" lengthAdjust="spacingAndGlyphs">Below Normal</text>
<text x="447.3" y="437.8" font-family="Liberation Sans" font-size="10.4" font-weight="bold" font-style="normal" fill="#333" text-anchor="start" textLength="23.2" lengthAdjust="spacingAndGlyphs">Near</text>
<text x="440.3" y="451.3" font-family="Liberation Sans" font-size="10.4" font-weight="bold" font-style="normal" fill="#333" text-anchor="start" textLength="37.7" lengthAdjust="spacingAndGlyphs">Normal</text>
<text x="505.5" y="437.8" font-family="Liberation Sans" font-size="10.4" font-weight="bold" font-style="normal" fill="#333" text-anchor="start" textLength="72.5" lengthAdjust="spacingAndGlyphs">Above Normal</text>
<text x="446.8" y="502.4" font-family="Liberation Sans" font-size="10.4" font-weight="bold" font-style="normal" fill="#333" text-anchor="start" textLength="29" lengthAdjust="spacingAndGlyphs">Equal</text>
<text x="440" y="515" font-family="Liberation Sans" font-size="10.4" font-weight="bold" font-style="normal" fill="#333" text-anchor="start" textLength="42.3" lengthAdjust="spacingAndGlyphs">Chances</text>
<text x="305" y="453" font-family="Liberation Sans" font-size="10.4" font-weight="normal" font-style="italic" fill="#9a9a9a" text-anchor="start" textLength="38" lengthAdjust="spacingAndGlyphs">Leaning</text>
<text x="309.6" y="466.8" font-family="Liberation Sans" font-size="10.4" font-weight="normal" font-style="italic" fill="#9a9a9a" text-anchor="start" textLength="29.3" lengthAdjust="spacingAndGlyphs">Below</text>
<text x="310.2" y="502.7" font-family="Liberation Sans" font-size="10.4" font-weight="normal" font-style="italic" fill="#9a9a9a" text-anchor="start" textLength="27.4" lengthAdjust="spacingAndGlyphs">Likely</text>
<text x="309.6" y="516.8" font-family="Liberation Sans" font-size="10.4" font-weight="normal" font-style="italic" fill="#9a9a9a" text-anchor="start" textLength="29.3" lengthAdjust="spacingAndGlyphs">Below</text>
<text x="576.5" y="452.4" font-family="Liberation Sans" font-size="10.4" font-weight="normal" font-style="italic" fill="#9a9a9a" text-anchor="start" textLength="38.5" lengthAdjust="spacingAndGlyphs">Leaning</text>
<text x="580.3" y="466.6" font-family="Liberation Sans" font-size="10.4" font-weight="normal" font-style="italic" fill="#9a9a9a" text-anchor="start" textLength="29.4" lengthAdjust="spacingAndGlyphs">Above</text>
<text x="580.3" y="503" font-family="Liberation Sans" font-size="10.4" font-weight="normal" font-style="italic" fill="#9a9a9a" text-anchor="start" textLength="27.4" lengthAdjust="spacingAndGlyphs">Likely</text>
<text x="580.3" y="517" font-family="Liberation Sans" font-size="10.4" font-weight="normal" font-style="italic" fill="#9a9a9a" text-anchor="start" textLength="29.4" lengthAdjust="spacingAndGlyphs">Above</text>
<path d="M351.8,446 H348.7 V468 H351.8 M351.8,474.5 H348.7 V539 H351.8 M569.5,446 H572.7 V468 H569.5 M569.5,474.5 H572.7 V539 H569.5" fill="none" stroke="#aaa" stroke-width="0.8"/>
<text x="2.3" y="559.2" font-family="Liberation Sans" font-size="11.2" font-weight="normal" font-style="normal" fill="#7a7a7a" text-anchor="start" textLength="109.7" lengthAdjust="spacingAndGlyphs">Temperature Outlook</text>
<text x="2.3" y="569.4" font-family="Liberation Sans" font-size="11.2" font-weight="normal" font-style="normal" fill="#7a7a7a" text-anchor="start" textLength="116.4" lengthAdjust="spacingAndGlyphs">for Mar 2022 - May 2022</text>
<text x="2.3" y="580" font-family="Liberation Sans" font-size="11.2" font-weight="normal" font-style="normal" fill="#7a7a7a" text-anchor="start" textLength="93.2" lengthAdjust="spacingAndGlyphs">Issued 17 Feb 2022</text>
<text x="462.3" y="559.1" font-family="Liberation Sans" font-size="11.2" font-weight="normal" font-style="normal" fill="#7a7a7a" text-anchor="start" textLength="154.1" lengthAdjust="spacingAndGlyphs">NWS Climate Prediction Center</text>
<text x="462.3" y="569.8" font-family="Liberation Sans" font-size="11.2" font-weight="normal" font-style="normal" fill="#7a7a7a" text-anchor="start" textLength="130.3" lengthAdjust="spacingAndGlyphs">Map by NOAA Climate.gov</text>
</svg>
</div></body></html>
